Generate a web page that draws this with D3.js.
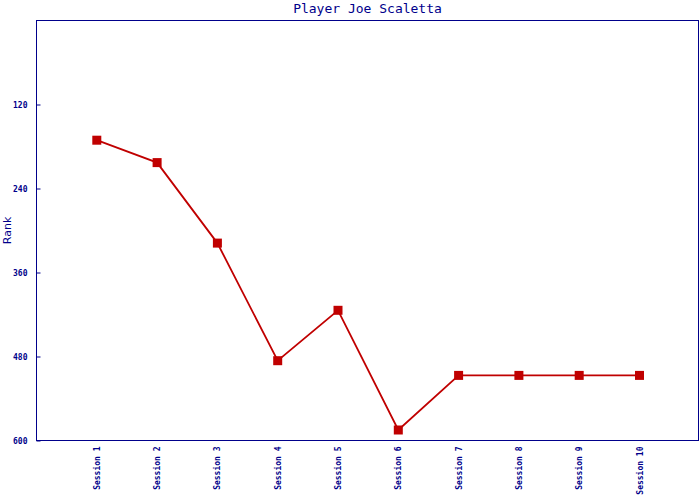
<!DOCTYPE html>
<html><head><meta charset="utf-8">
<script src="https://cdn.jsdelivr.net/npm/d3@7"></script>
<style>body{margin:0;background:#fff}svg{display:block}</style>
</head><body>
<svg id="c" width="700" height="500"></svg>
<script>
const title = "Player Joe Scaletta";
const yLabel = "Rank";
const sessions = ["Session 1","Session 2","Session 3","Session 4","Session 5","Session 6","Session 7","Session 8","Session 9","Session 10"];
const ranks = [171, 203, 318, 486, 414, 585, 507, 507, 507, 507];
const yTicks = [120, 240, 360, 480, 600];

const navy = "#00008b", red = "#c00000";
const L = 36.5, R = 698.5, T = 20.5, B = 440.5;
const svg = d3.select("#c");
const x = d3.scalePoint().domain(sessions).range([L, 699.8]).padding(1);
const y = d3.scaleLinear().domain([0, 600]).range([T, B]);

svg.append("rect").attr("x", L).attr("y", T).attr("width", R - L).attr("height", B - T)
  .attr("fill", "none").attr("stroke", navy).attr("stroke-width", 1);

const font = "DejaVu Sans Mono, monospace";
const ya = svg.append("g").attr("transform", `translate(${L},0)`)
  .call(d3.axisLeft(y).tickValues(yTicks).tickSize(-4).tickPadding(9).tickFormat(d3.format("d")));
ya.select(".domain").remove();
ya.selectAll("line").attr("stroke", navy);
ya.selectAll("text").attr("fill", navy).style("font-family", font).style("font-size", "8px").style("font-weight", "bold");

const xa = svg.append("g").attr("transform", `translate(0,${B})`)
  .call(d3.axisBottom(x).tickSize(0).tickPadding(0));
xa.select(".domain").remove();
xa.selectAll("text").attr("fill", navy).style("font-family", font).style("font-size", "8px").style("font-weight", "bold")
  .attr("transform", "rotate(-90)").attr("text-anchor", "end").attr("x", -6).attr("y", 0).attr("dy", "0.32em");

svg.append("text").attr("x", (L + R) / 2).attr("y", 13).attr("text-anchor", "middle")
  .attr("fill", navy).style("font-family", font).style("font-size", "13px").text(title);

svg.append("text").attr("transform", `translate(11,${(T + B) / 2}) rotate(-90)`).attr("text-anchor", "middle")
  .attr("fill", navy).style("font-family", "DejaVu Sans, sans-serif").style("font-size", "11px").text(yLabel);

const line = d3.line().x((d, i) => x(sessions[i])).y(d => y(d));
svg.append("path").datum(ranks).attr("d", line).attr("fill", "none").attr("stroke", red).attr("stroke-width", 1.8);

svg.selectAll("rect.m").data(ranks).enter().append("rect").attr("class", "m")
  .attr("x", (d, i) => x(sessions[i]) - 4.5).attr("y", d => y(d) - 4.5)
  .attr("width", 9).attr("height", 9).attr("fill", red);
</script>
</body></html>
